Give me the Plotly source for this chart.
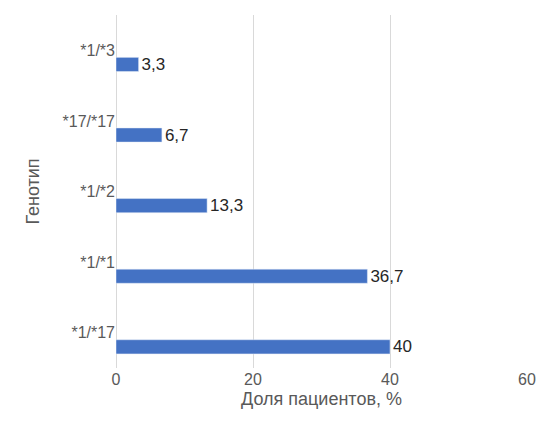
import plotly.graph_objects as go

categories = ["*1/*17", "*1/*1", "*1/*2", "*17/*17", "*1/*3"]
values = [40, 36.7, 13.3, 6.7, 3.3]
labels = ["40", "36,7", "13,3", "6,7", "3,3"]

fig = go.Figure(go.Bar(
    y=categories, x=values, orientation="h",
    width=0.2, offset=-0.3,
    marker_color="#4472C4",
    text=labels, textposition="outside", cliponaxis=False,
    textfont=dict(size=17, color="#262626"),
))
fig.update_layout(
    width=552, height=423,
    margin=dict(l=108, r=33, t=7, b=63),
    plot_bgcolor="white", paper_bgcolor="white",
    font=dict(family="Liberation Sans, Arial", size=16, color="#595959"),
    showlegend=False,
    uniformtext=dict(minsize=17, mode="show"),
    xaxis=dict(range=[0, 60], dtick=20, showgrid=True, gridcolor="#D9D9D9",
               zeroline=True, zerolinecolor="#D9D9D9", zerolinewidth=1, ticks="",
               title=dict(text="Доля пациентов, %", font=dict(size=18), standoff=5)),
    yaxis=dict(categoryorder="array", categoryarray=categories, range=[-0.5, 4.5],
               showgrid=False, ticks="", automargin=False,
               title=dict(text="Генотип", font=dict(size=18), standoff=18)),
)
fig.write_html("out.html")
